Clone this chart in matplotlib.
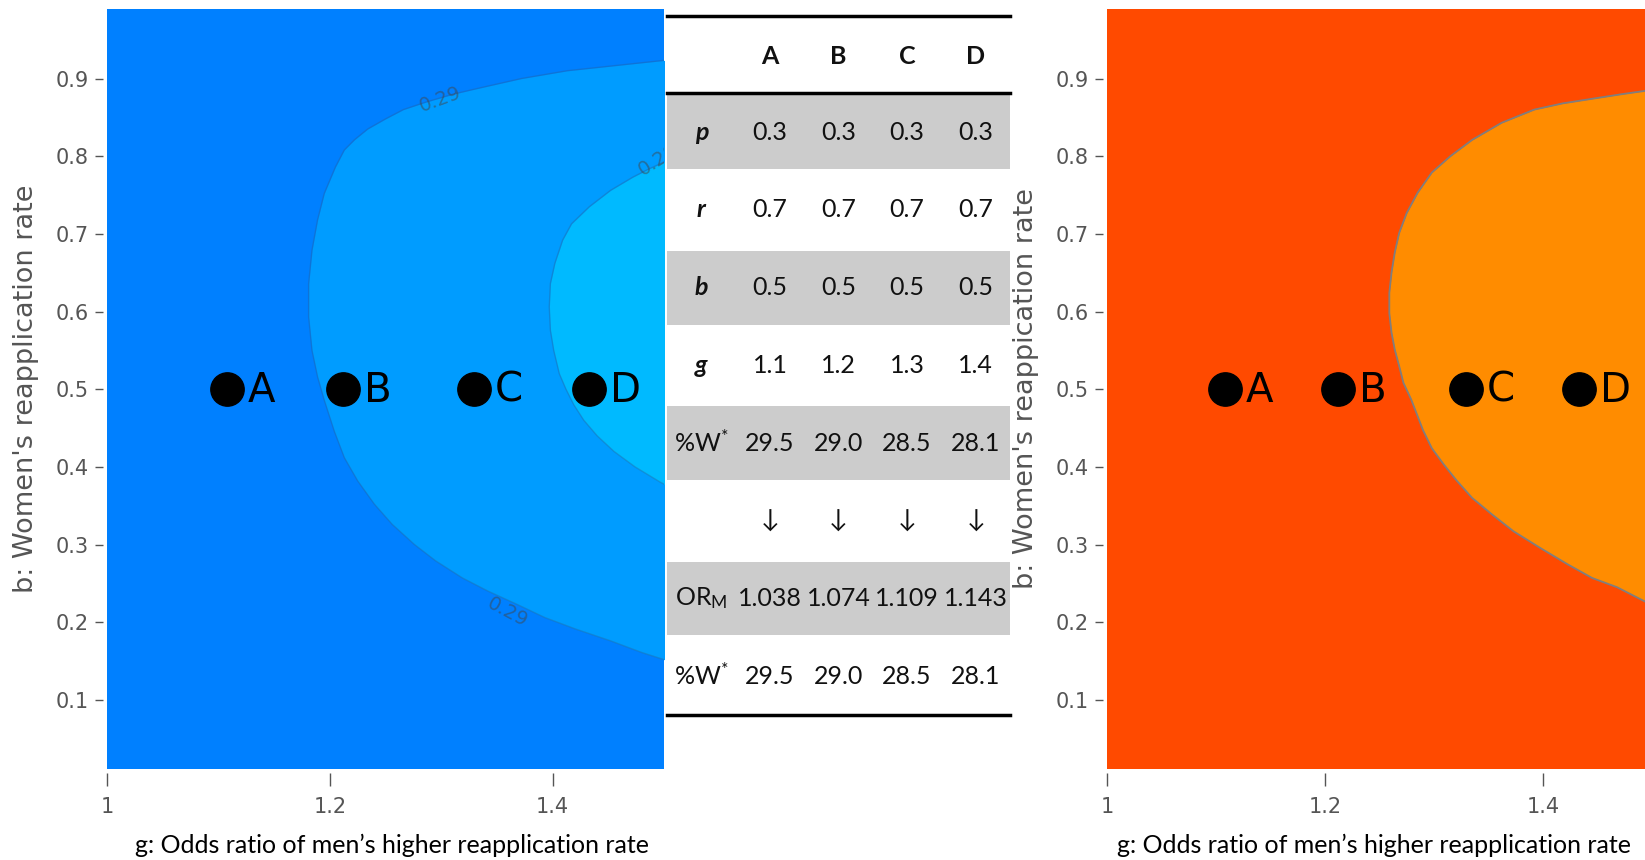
import numpy as np
import matplotlib
matplotlib.use("Agg")
import matplotlib.pyplot as plt

plt.rcParams["mathtext.fontset"] = "custom"
plt.rcParams["mathtext.rm"] = "Lato"
plt.rcParams["mathtext.it"] = "Lato:italic"

# scenario points (position on the g axis, all at b = 0.5)
point_names = ["A", "B", "C", "D"]
point_g = [1.108, 1.212, 1.329, 1.433]
point_b = [0.5, 0.5, 0.5, 0.5]

# left panel: contour boundaries (b -> g)
blue_outer_b = [0.150, 0.161, 0.176, 0.191, 0.206, 0.223, 0.240, 0.257, 0.279, 0.300,
                0.326, 0.352, 0.382, 0.412, 0.446, 0.486, 0.516, 0.550, 0.593, 0.636,
                0.679, 0.718, 0.752, 0.786, 0.808, 0.821, 0.835, 0.848, 0.860, 0.870,
                0.880, 0.888, 0.900, 0.910, 0.924]
blue_outer_g = [1.504, 1.480, 1.452, 1.421, 1.393, 1.368, 1.342, 1.319, 1.295, 1.276,
                1.256, 1.240, 1.225, 1.213, 1.204, 1.195, 1.189, 1.184, 1.181, 1.181,
                1.184, 1.189, 1.195, 1.205, 1.213, 1.222, 1.234, 1.250, 1.266, 1.287,
                1.311, 1.335, 1.372, 1.413, 1.504]
blue_inner_b = [0.375, 0.380, 0.400, 0.420, 0.440, 0.460, 0.480, 0.500, 0.520, 0.550,
                0.576, 0.606, 0.636, 0.662, 0.692, 0.713, 0.735, 0.756, 0.773, 0.784, 0.795]
blue_inner_g = [1.504, 1.497, 1.474, 1.455, 1.440, 1.428, 1.419, 1.412, 1.406, 1.401,
                1.398, 1.397, 1.398, 1.402, 1.409, 1.417, 1.433, 1.452, 1.472, 1.487, 1.504]

# right panel: single contour boundary
orange_b = [0.222, 0.227, 0.245, 0.257, 0.275, 0.296, 0.317, 0.339, 0.360, 0.382,
            0.403, 0.424, 0.447, 0.487, 0.508, 0.530, 0.551, 0.573, 0.598, 0.624,
            0.650, 0.676, 0.701, 0.727, 0.753, 0.779, 0.800, 0.821, 0.843, 0.860,
            0.868, 0.875, 0.880, 0.884, 0.887]
orange_g = [1.500, 1.493, 1.468, 1.445, 1.422, 1.397, 1.373, 1.353, 1.335, 1.321,
            1.309, 1.298, 1.290, 1.279, 1.272, 1.268, 1.264, 1.261, 1.259, 1.259,
            1.261, 1.264, 1.268, 1.275, 1.285, 1.298, 1.315, 1.335, 1.362, 1.392,
            1.418, 1.450, 1.473, 1.493, 1.500]

# contour labels (text, g, b, angle)
contour_labels = [("0.29", 1.299, 0.873, 20), ("0.29", 1.359, 0.213, -28), ("0.285", 1.478, 0.781, 32)]

# table
row_labels = ["p", "r", "b", "g", "%W$^{*}$", "", "OR$_{\\mathrm{M}}$", "%W$^{*}$"]
p_vals = [0.3, 0.3, 0.3, 0.3]
r_vals = [0.7, 0.7, 0.7, 0.7]
b_vals = [0.5, 0.5, 0.5, 0.5]
g_vals = [1.1, 1.2, 1.3, 1.4]
w_before = [29.5, 29.0, 28.5, 28.1]
or_m = [1.038, 1.074, 1.109, 1.143]
w_after = [29.5, 29.0, 28.5, 28.1]

tick_col = "#555555"


def style_axes(ax):
    ax.set_xlim(1, 1.5)
    ax.set_ylim(0.011, 0.989)
    ax.set_xticks([1, 1.2, 1.4])
    ax.set_xticklabels(["1", "1.2", "1.4"])
    ax.set_yticks(np.arange(1, 10) / 10)
    ax.set_yticklabels([f"{v / 10:.1f}" for v in range(1, 10)])
    for s in ax.spines.values():
        s.set_visible(False)
    ax.spines["left"].set_position(("outward", 3))
    ax.spines["bottom"].set_position(("outward", 3))
    ax.tick_params(axis="both", colors=tick_col, labelsize=15, width=1)
    ax.tick_params(axis="x", pad=8, length=9)
    ax.tick_params(axis="y", pad=4, length=6)


def draw_points(ax):
    ax.plot(point_g, point_b, "o", color="black", markersize=24, zorder=5)
    for name, g, b in zip(point_names, point_g, point_b):
        ax.annotate(name, (g, b), xytext=(15, -1), textcoords="offset points",
                    ha="left", va="center", fontsize=29, color="black", zorder=6)


fig = plt.figure(figsize=(16.45, 8.6), dpi=100)

# ---- left panel
ax1 = fig.add_axes([0.06505, 0.10581, 0.3386, 0.88326])
ax1.set_facecolor("#0080FF")
ax1.fill_betweenx(blue_outer_b, blue_outer_g, 1.6, color="#009CFF", lw=0)
ax1.fill_betweenx(blue_inner_b, blue_inner_g, 1.6, color="#00BAFF", lw=0)
ax1.plot(blue_outer_g, blue_outer_b, color="#2a5d8f", alpha=0.35, lw=1)
ax1.plot(blue_inner_g, blue_inner_b, color="#2a5d8f", alpha=0.35, lw=1)
for txt, g, b, ang in contour_labels:
    ax1.text(g, b, txt, rotation=ang, ha="left" if txt == "0.285" else "center", va="center",
             fontsize=14, color="#444444", alpha=0.5, rotation_mode="anchor", clip_on=True)
style_axes(ax1)
draw_points(ax1)

# ---- right panel
ax2 = fig.add_axes([0.67295, 0.10581, 0.33131, 0.88326])
ax2.set_facecolor("#FF4A00")
ax2.fill_betweenx(orange_b, orange_g, 1.6, color="#FF8C00", lw=0)
ax2.plot(orange_g, orange_b, color="#7f7f7f", lw=1.3)
style_axes(ax2)
draw_points(ax2)

# axis titles
fig.text(0.0158, 0.5477, "b: Women's reapplication rate", rotation=90, ha="center", va="center",
         fontsize=19.5, color=tick_col)
fig.text(0.6237, 0.5477, "b: Women's reappication rate", rotation=90, ha="center", va="center",
         fontsize=19.5, color=tick_col)
fig.text(0.2383, 0.0174, "g: Odds ratio of men\u2019s higher reapplication rate", ha="center",
         va="center", fontsize=18, family="Lato", color="black")
fig.text(0.8353, 0.0174, "g: Odds ratio of men\u2019s higher reapplication rate", ha="center",
         va="center", fontsize=18, family="Lato", color="black")

# ---- table
axt = fig.add_axes([0.40547, 0.1686, 0.20851, 0.81314])
axt.set_xlim(-0.5, 4.5)
axt.set_ylim(9, 0)
axt.axis("off")
for i in (1, 3, 5, 7):
    axt.axhspan(i + 0.025, i + 0.975, color="#CCCCCC", lw=0)
for y in (0, 1, 9):
    axt.axhline(y, color="black", lw=2.5, clip_on=False)

tfont = dict(fontsize=18, family=["Lato", "DejaVu Sans"], ha="center", va="center", color="#111111")
for j, name in enumerate(point_names):
    axt.text(j + 1, 0.52, name, fontweight="bold", **tfont)

rows = [
    [f"{v:.1f}" for v in p_vals],
    [f"{v:.1f}" for v in r_vals],
    [f"{v:.1f}" for v in b_vals],
    [f"{v:.1f}" for v in g_vals],
    [f"{v:.1f}" for v in w_before],
    ["\u2193"] * 4,
    [f"{v:.3f}" for v in or_m],
    [f"{v:.1f}" for v in w_after],
]
for i, (lab, vals) in enumerate(zip(row_labels, rows)):
    y = i + 1.5
    if i < 4:
        axt.text(0, y, lab, fontweight="bold", style="italic", **tfont)
    elif lab:
        axt.text(0, y, lab, **tfont)
    for j, v in enumerate(vals):
        axt.text(j + 1, y, v, **tfont)

fig.savefig("out.png", dpi=100)
